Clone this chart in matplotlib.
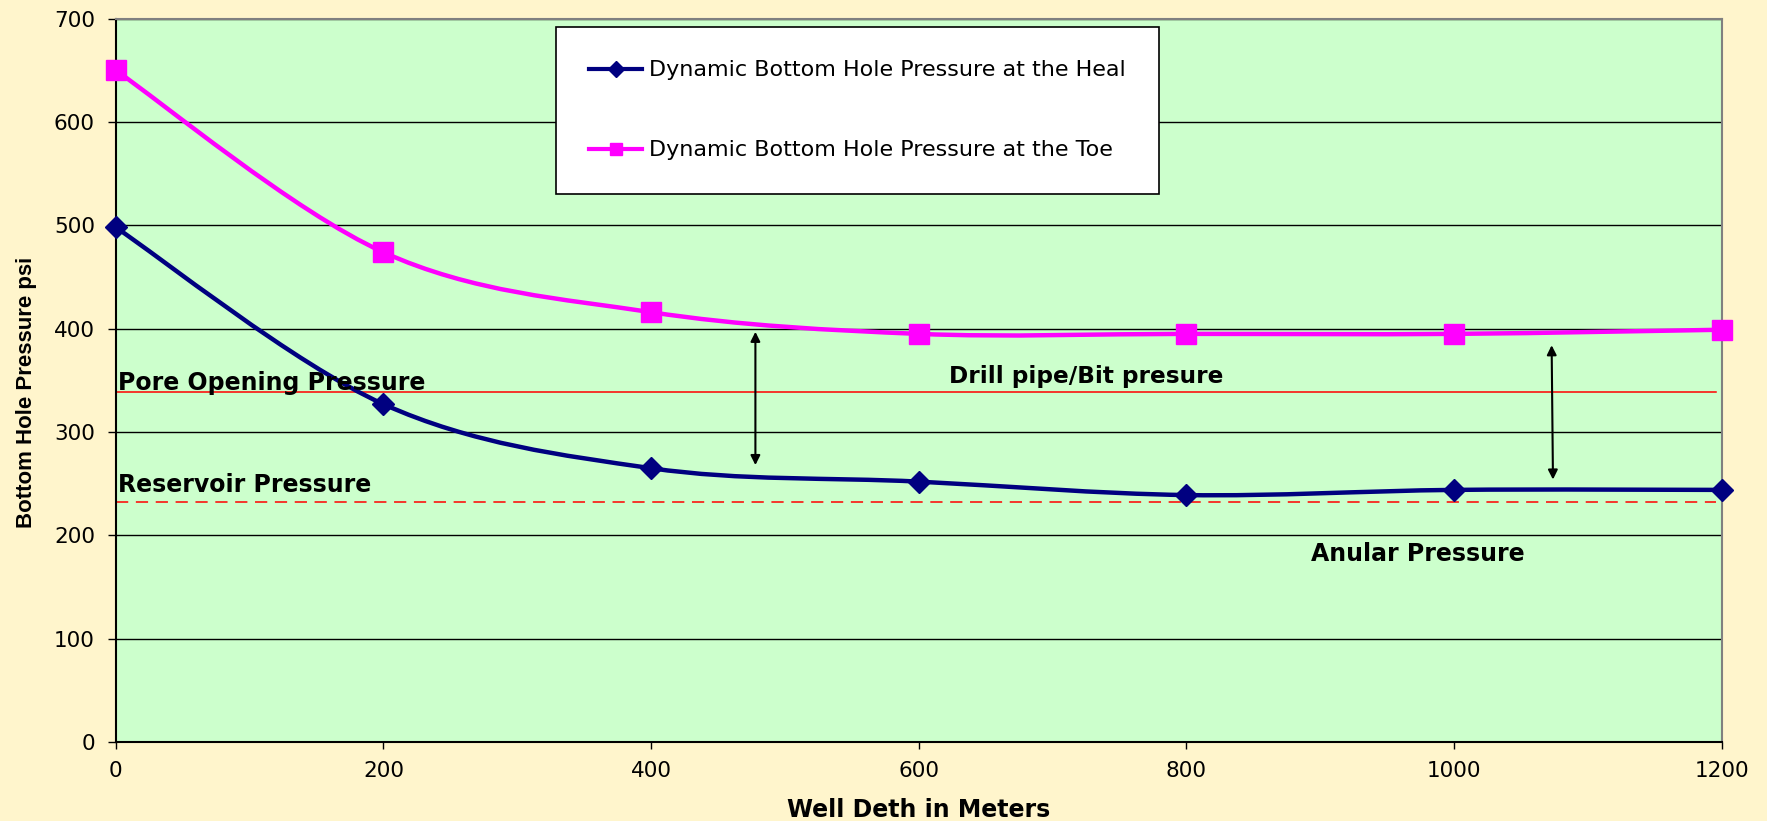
import numpy as np
import matplotlib.pyplot as plt
from matplotlib.path import Path
from matplotlib.patches import PathPatch
from matplotlib.lines import Line2D

# Well depth (m) and bottom hole pressures (psi)
depth = [0, 200, 400, 600, 800, 1000, 1200]
heal_pressure = [498, 327, 265, 252, 239, 244, 244]
toe_pressure = [650, 474, 416, 395, 395, 395, 399]
pore_opening_pressure = 339
reservoir_pressure = 232

heal_label = 'Dynamic Bottom Hole Pressure at the Heal'
toe_label = 'Dynamic Bottom Hole Pressure at the Toe'

navy = '#000080'
magenta = '#FF00FF'


def smooth_path(x, y):
    # Catmull-Rom style bezier through the points (like a spreadsheet "smoothed line")
    pts = np.column_stack([x, y]).astype(float)
    n = len(pts)
    verts = [pts[0]]
    codes = [Path.MOVETO]
    for i in range(n - 1):
        p0 = pts[max(i - 1, 0)]
        p1 = pts[i]
        p2 = pts[i + 1]
        p3 = pts[min(i + 2, n - 1)]
        verts += [p1 + (p2 - p0) / 6, p2 - (p3 - p1) / 6, p2]
        codes += [Path.CURVE4] * 3
    return Path(verts, codes)


fig = plt.figure(figsize=(17.67, 8.21), dpi=100, facecolor='#FFF5CC')
ax = fig.add_axes([0.0655, 0.0962, 0.9088, 0.881])
ax.set_facecolor('#CCFFCC')

ax.set_xlim(0, 1200)
ax.set_ylim(0, 700)
ax.set_xticks(np.arange(0, 1201, 200))
ax.set_yticks(np.arange(0, 701, 100))
ax.yaxis.grid(True, color='black', lw=1.0)
ax.set_axisbelow(True)
ax.tick_params(axis='y', length=6, width=1, pad=9, labelsize=15.5)
ax.tick_params(axis='x', length=5, width=1, pad=9, labelsize=15.5)
for s in ['top', 'right']:
    ax.spines[s].set_color('#808080')
    ax.spines[s].set_linewidth(1.5)
for s in ['left', 'bottom']:
    ax.spines[s].set_linewidth(1.5)

# reference pressure levels
ax.axhline(pore_opening_pressure, xmax=0.9965, color='red', lw=1.1, zorder=2)
ax.axhline(reservoir_pressure, xmax=0.9965, color='red', lw=1.1, ls=(0, (8, 5)), zorder=2)

# smoothed pressure curves with markers
for y, c, m, ms in [(heal_pressure, navy, 'D', 11.5), (toe_pressure, magenta, 's', 14)]:
    ax.add_patch(PathPatch(smooth_path(depth, y), facecolor='none', edgecolor=c,
                           lw=3.2, zorder=3))
    ax.plot(depth, y, ls='none', marker=m, ms=ms, color=c, mec=c,
            clip_on=False, zorder=4)

ax.text(2, 341, 'Pore Opening Pressure', fontsize=17, fontweight='bold', va='baseline')
ax.text(2, 242, 'Reservoir Pressure', fontsize=17, fontweight='bold', va='baseline')
ax.text(725, 347, 'Drill pipe/Bit presure', fontsize=16.7, fontweight='bold',
        ha='center', va='baseline')
ax.text(973, 175, 'Anular Pressure', fontsize=17, fontweight='bold',
        ha='center', va='baseline')

arrow = dict(arrowstyle='<|-|>', color='black', lw=1.5, mutation_scale=14,
             shrinkA=0, shrinkB=0)
ax.annotate('', xy=(478, 397), xytext=(478, 268), arrowprops=arrow)
ax.annotate('', xy=(1073, 384), xytext=(1074, 254), arrowprops=arrow)

ax.set_xlabel('Well Deth in Meters', fontsize=17, fontweight='bold')
ax.xaxis.set_label_coords(0.5, -0.077)
ax.set_ylabel('Bottom Hole Pressure psi', fontsize=16, fontweight='bold',
              family=['Liberation Sans', 'DejaVu Sans'])
ax.yaxis.set_label_coords(-0.049, 0.484)

handles = [
    Line2D([], [], color=navy, lw=3, marker='D', ms=8),
    Line2D([], [], color=magenta, lw=3, marker='s', ms=9),
]
leg = ax.legend(handles, [heal_label, toe_label], loc='upper left',
                bbox_to_anchor=(0.274, 0.9885), borderaxespad=0, fontsize=16,
                frameon=True, fancybox=False, edgecolor='black', facecolor='white',
                framealpha=1, borderpad=1.5, labelspacing=2.7,
                handlelength=2.4, handletextpad=0.3)
leg.get_frame().set_linewidth(1.2)
leg.set_zorder(5)

fig.savefig('out.png', dpi=100, facecolor=fig.get_facecolor())
